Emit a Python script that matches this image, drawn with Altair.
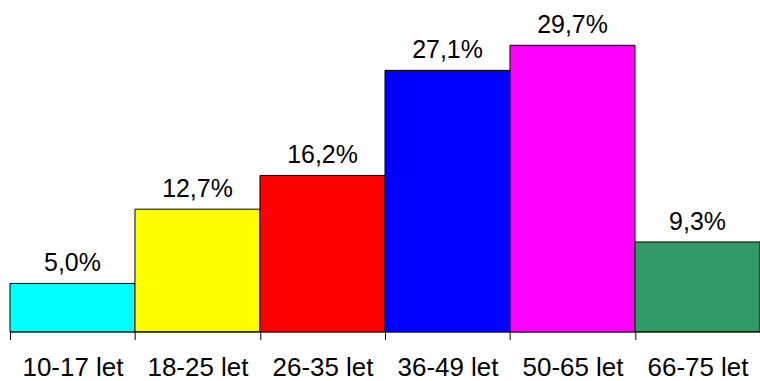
import altair as alt
import pandas as pd

# Age groups and their share (%)
groups = ["10-17 let", "18-25 let", "26-35 let", "36-49 let", "50-65 let", "66-75 let"]
shares = [5.0, 12.7, 16.2, 27.1, 29.7, 9.3]
colors = ["#00FFFF", "#FFFF00", "#FF0000", "#0000FF", "#FF00FF", "#339966"]

df = pd.DataFrame({
    "group": groups,
    "share": shares,
    "label": [f"{v:.1f}".replace(".", ",") + "%" for v in shares],
})

FONT = "Liberation Sans"

x = alt.X(
    "group:N",
    sort=groups,
    scale=alt.Scale(paddingInner=0, paddingOuter=0),
    axis=alt.Axis(
        title=None,
        labelAngle=0,
        labelFont=FONT,
        labelFontSize=26,
        labelColor="#000000",
        labelPadding=15,
        tickBand="extent",
        tickSize=8,
        tickColor="#000000",
        domainColor="#000000",
        labelOverlap=False,
        labelLimit=0,
    ),
)
y = alt.Y("share:Q", scale=alt.Scale(domain=[0, 30], nice=False), axis=None)

bars = alt.Chart(df).mark_bar(stroke="#000000", strokeWidth=1).encode(
    x=x,
    y=y,
    color=alt.Color("group:N", sort=groups,
                    scale=alt.Scale(domain=groups, range=colors), legend=None),
)

labels = alt.Chart(df).mark_text(
    font=FONT, fontSize=25, color="#000000", baseline="alphabetic", dy=-12
).encode(x=alt.X("group:N", sort=groups), y="share:Q", text="label:N")

chart = (
    alt.layer(bars, labels)
    .properties(
        width=752,
        height=290,
        padding={"left": 10, "top": 42, "right": 0, "bottom": 49},
        autosize=alt.AutoSizeParams(type="none"),
        background="#FFFFFF",
    )
    .configure_view(stroke=None)
    .configure_axis(grid=False)
)

chart.save("out.html", embed_options={"renderer": "svg", "actions": False})
